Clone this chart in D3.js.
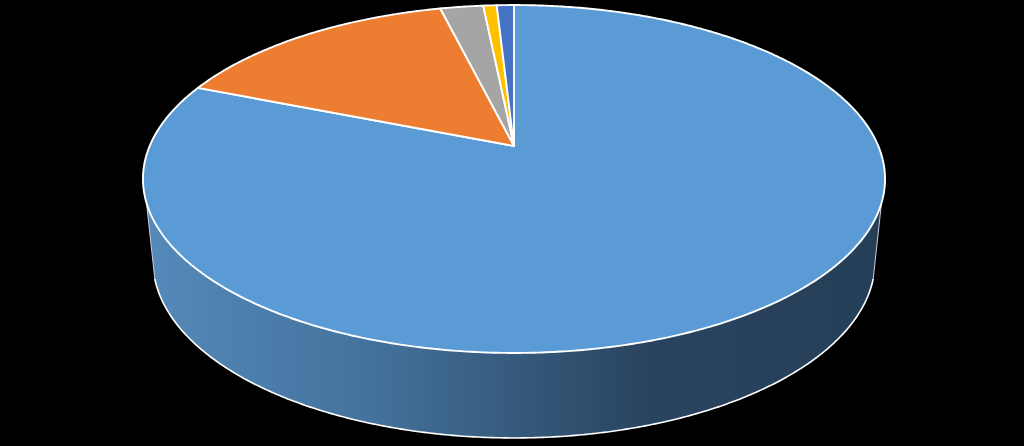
<!DOCTYPE html>
<html>
<head>
<meta charset="utf-8">
<script src="https://cdn.jsdelivr.net/npm/d3@7/dist/d3.min.js"></script>
<style>html,body{margin:0;padding:0;background:#000;overflow:hidden}svg{display:block}</style>
</head>
<body>
<svg id="chart" width="1024" height="446"></svg>
<script>
const categories = ["A", "B", "C", "D", "E"];
const values = [81.05, 15.1, 2.25, 0.7, 0.9];
const colors = ["#5b9bd5", "#ed7d31", "#a5a5a5", "#ffc000", "#4472c4"];

const W = 1024, H = 446;
const k = 0.1897, cx = 514;
const topFace = { cy: 146, ay: 167.7, bx: 364.3 };
const baseFace = { cy: 227.4, ay: 170.6, bx: 354.5 };

const svg = d3.select("#chart").attr("viewBox", [0, 0, W, H]);
const pie = d3.pie().sort(null).value((d, i) => values[i]);
const slices = pie(categories);

function proj(theta, f) {
  const u = Math.sin(theta), v = Math.cos(theta), w = 1 + k * v;
  return [cx + f.bx * u / w, f.cy - f.ay * v / w];
}
const deg = d => d * Math.PI / 180;
const line = d3.line();
function rim(a0, a1, f) {
  const n = Math.max(2, Math.ceil(Math.abs(a1 - a0) * 120));
  return d3.range(n + 1).map(i => proj(a0 + (a1 - a0) * i / n, f));
}

const defs = svg.append("defs");
const grad = defs.append("linearGradient").attr("id", "side")
  .attr("gradientUnits", "userSpaceOnUse")
  .attr("x1", 150).attr("x2", 880).attr("y1", 0).attr("y2", 0);
[[0, "#5489b9"], [0.3, "#44729d"], [0.5, "#365a7c"], [0.68, "#294460"], [1, "#263f58"]]
  .forEach(([o, c]) => grad.append("stop").attr("offset", o).attr("stop-color", c));

// side wall
const tR = deg(108.6), tL = deg(251.4), bR = deg(106.6), bL = deg(253.4);
svg.append("path").attr("d", line(rim(tR, tL, topFace).concat(rim(bL, bR, baseFace))) + "Z")
  .attr("fill", "url(#side)");
svg.append("path").attr("d", line(rim(bR, bL, baseFace)))
  .attr("fill", "none").attr("stroke", "#fff").attr("stroke-width", 1.6);
svg.append("path").attr("d", line([proj(tR, topFace), proj(bR, baseFace)]))
  .attr("fill", "none").attr("stroke", "#ccd").attr("stroke-width", 1);
svg.append("path").attr("d", line([proj(tL, topFace), proj(bL, baseFace)]))
  .attr("fill", "none").attr("stroke", "#ccd").attr("stroke-width", 1);

// top face
svg.selectAll("path.slice").data(slices).join("path")
  .attr("class", "slice")
  .attr("d", d => line([[cx, topFace.cy]].concat(rim(d.startAngle, d.endAngle, topFace))) + "Z")
  .attr("fill", (d, i) => colors[i])
  .attr("stroke", "#fff").attr("stroke-width", 1.9).attr("stroke-linejoin", "round");
</script>
</body>
</html>
